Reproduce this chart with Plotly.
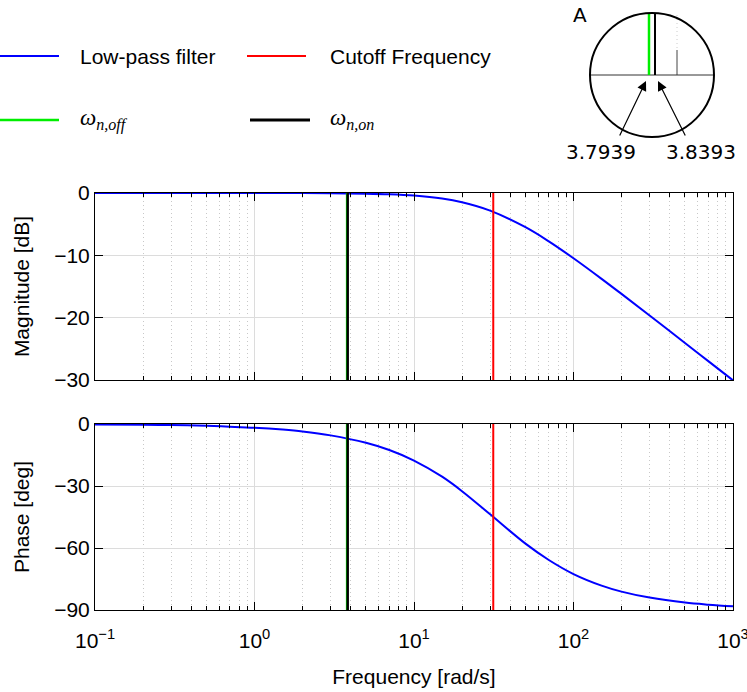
import plotly.graph_objects as go

# ---- data ----
freq = [0.1, 0.2, 0.3, 0.5, 0.7, 1, 1.5, 2, 3, 5, 7, 10, 15, 20, 30, 50, 70,
        100, 150, 200, 300, 500, 700, 1000]
mag_db = [0, 0, 0, 0, 0, 0, -0.01, -0.02, -0.04, -0.11, -0.21, -0.42, -0.89,
          -1.48, -2.82, -5.49, -7.76, -10.47, -13.77, -16.19, -19.65, -24.06,
          -26.97, -30.06]
phase_deg = [-0.2, -0.4, -0.5, -0.9, -1.3, -1.8, -2.7, -3.6, -5.5, -9.1,
             -12.6, -17.7, -25.5, -32.5, -43.7, -57.9, -65.8, -72.6, -78.2,
             -81.1, -84.0, -86.4, -87.4, -88.2]
cutoff_freq = 31.4
w_n_off = 3.7939
w_n_on = 3.8393
mag_range = [-30, 0]
phase_range = [-90, 0]
x_tickvals = [0.1, 1, 10, 100, 1000]
x_ticktext = ["10<sup>\u22121</sup>", "10<sup>0</sup>", "10<sup>1</sup>",
              "10<sup>2</sup>", "10<sup>3</sup>"]
mag_ticks = [0, -10, -20, -30]
phase_ticks = [0, -30, -60, -90]

W, H = 747, 692
ML, MR, MT, MB = 95, 14, 193, 82
PW, PH = W - ML - MR, H - MT - MB


def px(x):
    return (x - ML) / PW


def py(y):
    return (H - MB - y) / PH


FONT = "Liberation Sans, Arial, sans-serif"
BLUE, RED, GREEN, BLACK = "#0000ff", "#ff0000", "#00ee00", "#000000"

fig = go.Figure()

# magnitude panel
fig.add_trace(go.Scatter(x=freq, y=mag_db, mode="lines", line=dict(color=BLUE, width=2, shape="spline"),
                         name="Low-pass filter", xaxis="x", yaxis="y", showlegend=False))
fig.add_trace(go.Scatter(x=[cutoff_freq, cutoff_freq], y=mag_range, mode="lines", line=dict(color=RED, width=2),
                         name="Cutoff Frequency", xaxis="x", yaxis="y", showlegend=False))
fig.add_trace(go.Scatter(x=[w_n_off, w_n_off], y=mag_range, mode="lines", line=dict(color=GREEN, width=2),
                         name="ω n,off", xaxis="x", yaxis="y", showlegend=False))
fig.add_trace(go.Scatter(x=[w_n_on, w_n_on], y=mag_range, mode="lines", line=dict(color=BLACK, width=2.5),
                         name="ω n,on", xaxis="x", yaxis="y", showlegend=False))
# phase panel
fig.add_trace(go.Scatter(x=freq, y=phase_deg, mode="lines", line=dict(color=BLUE, width=2, shape="spline"),
                         xaxis="x2", yaxis="y2", showlegend=False))
fig.add_trace(go.Scatter(x=[cutoff_freq, cutoff_freq], y=phase_range, mode="lines", line=dict(color=RED, width=2),
                         xaxis="x2", yaxis="y2", showlegend=False))
fig.add_trace(go.Scatter(x=[w_n_off, w_n_off], y=phase_range, mode="lines", line=dict(color=GREEN, width=2),
                         xaxis="x2", yaxis="y2", showlegend=False))
fig.add_trace(go.Scatter(x=[w_n_on, w_n_on], y=phase_range, mode="lines", line=dict(color=BLACK, width=2.5),
                         xaxis="x2", yaxis="y2", showlegend=False))

xcommon = dict(type="log", range=[-1.0001, 3.0001], tickvals=x_tickvals, ticktext=x_ticktext,
               ticks="inside", ticklen=8, tickcolor="black", mirror="allticks",
               showline=True, linecolor="black", linewidth=1, automargin=False,
               ticklabeloverflow="allow",
               showgrid=True, gridcolor="#dcdcdc", gridwidth=1, zeroline=False,
               minor=dict(dtick="D1", ticks="inside", ticklen=4, tickcolor="black",
                          showgrid=True, griddash="1px,3px", gridcolor="#c8c8c8", gridwidth=1),
               tickfont=dict(family=FONT, size=21, color="black"))
ycommon = dict(ticks="inside", ticklen=8, tickcolor="black", mirror="allticks",
               showline=True, linecolor="black", linewidth=1, showgrid=True,
               gridcolor="#dcdcdc", zeroline=False, automargin=False,
               tickfont=dict(family=FONT, size=21, color="black"))

fig.update_layout(
    width=W, height=H, margin=dict(l=ML, r=MR, t=MT, b=MB),
    paper_bgcolor="white", plot_bgcolor="white", showlegend=False,
    font=dict(family=FONT, size=21, color="black"),
    xaxis=dict(xcommon, domain=[0, 1], anchor="y", showticklabels=False),
    xaxis2=dict(xcommon, domain=[0, 1], anchor="y2", ticklabelstandoff=12,
                title=dict(text="Frequency [rad/s]", font=dict(family=FONT, size=21), standoff=18)),
    yaxis=dict(ycommon, domain=[py(380), 1], anchor="x", range=mag_range, tickvals=mag_ticks,
               title=dict(text="Magnitude [dB]", font=dict(family=FONT, size=21), standoff=18)),
    yaxis2=dict(ycommon, domain=[0, py(424)], anchor="x2", range=phase_range, tickvals=phase_ticks,
                title=dict(text="Phase [deg]", font=dict(family=FONT, size=21), standoff=18)),
)

shapes = []
# manual legend
leg = [(0, 59, 56, BLUE, 2), (247, 306, 56, RED, 2), (0, 59, 120, GREEN, 2.5), (250, 310, 120, BLACK, 3)]
for x0, x1, y, c, w in leg:
    shapes.append(dict(type="line", xref="paper", yref="paper", x0=px(x0), x1=px(x1), y0=py(y), y1=py(y),
                       line=dict(color=c, width=w)))
# inset "A"
shapes.append(dict(type="line", xref="paper", yref="paper", x0=px(677), x1=px(677), y0=py(15), y1=py(50),
                   line=dict(color="#cccccc", width=1, dash="1px,3px")))
shapes.append(dict(type="line", xref="paper", yref="paper", x0=px(677), x1=px(677), y0=py(50), y1=py(75),
                   line=dict(color="#444444", width=1)))
shapes.append(dict(type="line", xref="paper", yref="paper", x0=px(590), x1=px(714), y0=py(75), y1=py(75),
                   line=dict(color="#333333", width=1)))
shapes.append(dict(type="line", xref="paper", yref="paper", x0=px(649), x1=px(649), y0=py(14), y1=py(75),
                   line=dict(color=GREEN, width=2.5)))
shapes.append(dict(type="line", xref="paper", yref="paper", x0=px(655), x1=px(655), y0=py(14), y1=py(75),
                   line=dict(color=BLACK, width=2)))
shapes.append(dict(type="circle", xref="paper", yref="paper", x0=px(590), x1=px(714), y0=py(137), y1=py(13),
                   line=dict(color="black", width=2)))
fig.update_layout(shapes=shapes)

ann = []
ann.append(dict(text="Low-pass filter", x=px(78), y=py(56), xanchor="left", yanchor="middle"))
ann.append(dict(text="Cutoff Frequency", x=px(328), y=py(56), xanchor="left", yanchor="middle"))
ann.append(dict(text="<i>ω</i><sub><i>n,off</i></sub>", x=px(78), y=py(119), xanchor="left", yanchor="middle",
                font=dict(family="Liberation Serif, DejaVu Serif, serif", size=23)))
ann.append(dict(text="<i>ω</i><sub><i>n,on</i></sub>", x=px(328), y=py(119), xanchor="left", yanchor="middle",
                font=dict(family="Liberation Serif, DejaVu Serif, serif", size=23)))
ann.append(dict(text="A", x=px(580), y=py(15), xanchor="center", yanchor="middle",
                font=dict(family="DejaVu Sans, sans-serif", size=20)))
ann.append(dict(text=f"{w_n_off:.4f}", x=px(601), y=py(152), xanchor="center", yanchor="middle",
                font=dict(family="DejaVu Sans, sans-serif", size=20)))
ann.append(dict(text=f"{w_n_on:.4f}", x=px(701), y=py(152), xanchor="center", yanchor="middle",
                font=dict(family="DejaVu Sans, sans-serif", size=20)))
for hx, tx in [(646, 619), (658, 686)]:
    ann.append(dict(text="", x=px(hx), y=py(81), ax=tx - hx, ay=137 - 81, axref="pixel", ayref="pixel",
                    showarrow=True, arrowhead=2, arrowsize=1.6, arrowwidth=1.2, arrowcolor="black"))
for a in ann:
    a.setdefault("xref", "paper")
    a.setdefault("yref", "paper")
    a.setdefault("showarrow", False)
    a.setdefault("font", dict(family=FONT, size=21, color="black"))
fig.update_layout(annotations=ann)

fig.write_html("out.html", config={"displayModeBar": False},
               post_script="document.body.style.margin='0';document.body.style.overflow='hidden';")
